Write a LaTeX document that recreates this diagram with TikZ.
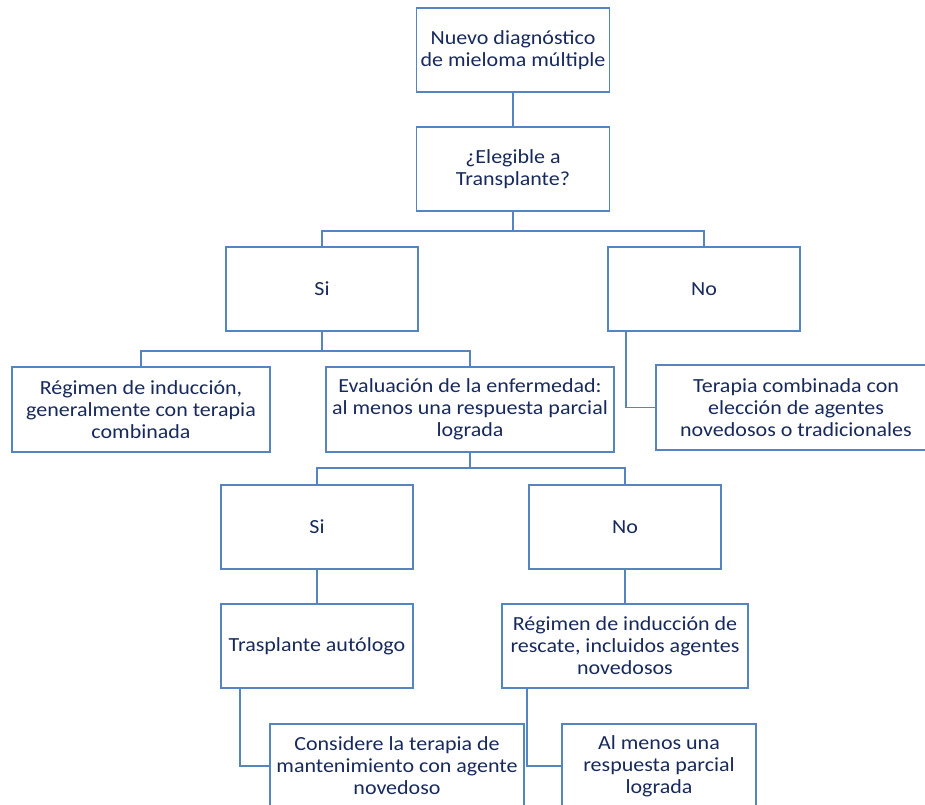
\documentclass[tikz,border=0pt]{standalone}
\usepackage{fontspec}
\setmainfont{Carlito}[FakeStretch=1.1]
\usetikzlibrary{calc}

\definecolor{boxblue}{RGB}{84,133,192}
\definecolor{textnavy}{RGB}{24,42,92}

\begin{document}
\begin{tikzpicture}[x=0.75pt, y=-0.75pt,
    stepbox/.style={rectangle, draw=boxblue, line width=1.4pt, fill=white, align=center,
        text=textnavy, font=\fontsize{15}{16.5}\selectfont, inner sep=2pt},
    sized/.style 2 args={minimum width=#1*0.75pt, minimum height=#2*0.75pt},
    conn/.style={draw=boxblue, line width=1.4pt}]

    \useasboundingbox (0,0) rectangle (925,805);
    \clip (0,0) rectangle (925,805);

    % Top of the tree
    \node[stepbox, sized={193}{84}] (nuevo) at (513, 50) {Nuevo diagnóstico\\de mieloma múltiple};
    \node[stepbox, sized={193}{84}] (eleg) at (513, 169) {¿Elegible a\\Transplante?};

    % First answer
    \node[stepbox, sized={192}{84}] (si1) at (322, 289) {Si};
    \node[stepbox, sized={192}{84}] (no1) at (704, 289) {No};

    % Second level
    \node[stepbox, sized={258}{85}] (induc) at (141, 409.5) {Régimen de inducción,\\generalmente con terapia\\combinada};
    \node[stepbox, sized={288}{85}] (evalua) at (470, 409.5) {Evaluación de la enfermedad:\\al menos una respuesta parcial\\lograda};
    \node[stepbox, sized={280}{85}] (terapia) at (796, 407.5) {Terapia combinada con\\elección de agentes\\novedosos o tradicionales};

    % Second answer
    \node[stepbox, sized={192}{84}] (si2) at (317, 527) {Si};
    \node[stepbox, sized={192}{84}] (no2) at (625, 527) {No};

    % Third level
    \node[stepbox, sized={192}{84}] (traspl) at (317, 646) {Trasplante autólogo};
    \node[stepbox, sized={246}{84}] (rescate) at (625, 646) {Régimen de inducción de\\rescate, incluidos agentes\\novedosos};

    % Bottom (cut by the page edge)
    \node[stepbox, sized={254}{84}] (manten) at (397, 766) {Considere la terapia de\\mantenimiento con agente\\novedoso};
    \node[stepbox, sized={194}{84}] (parcial) at (659, 766) {Al menos una\\respuesta parcial\\lograda};

    % Junctions
    \coordinate (j1) at ($(eleg.south)+(0,19)$);
    \coordinate (j2) at ($(si1.south)+(0,19)$);
    \coordinate (j3) at ($(evalua.south)+(0,15)$);
    \coordinate (noOut) at ($(no1.south west)+(19,0)$);
    \coordinate (trOut) at ($(traspl.south west)+(20,0)$);
    \coordinate (reOut) at ($(rescate.south west)+(26,0)$);

    % Connectors
    \draw[conn] (nuevo) -- (eleg);
    \draw[conn] (eleg.south) -- (j1);
    \draw[conn] (si1.north) |- (j1) -| (no1.north);
    \draw[conn] (si1.south) -- (j2);
    \draw[conn] (induc.north) |- (j2) -| (evalua.north);
    \draw[conn] (noOut) |- (terapia.west);
    \draw[conn] (evalua.south) -- (j3);
    \draw[conn] (si2.north) |- (j3) -| (no2.north);
    \draw[conn] (si2) -- (traspl);
    \draw[conn] (no2) -- (rescate);
    \draw[conn] (trOut) |- (manten.west);
    \draw[conn] (reOut) |- (parcial.west);

\end{tikzpicture}
\end{document}
